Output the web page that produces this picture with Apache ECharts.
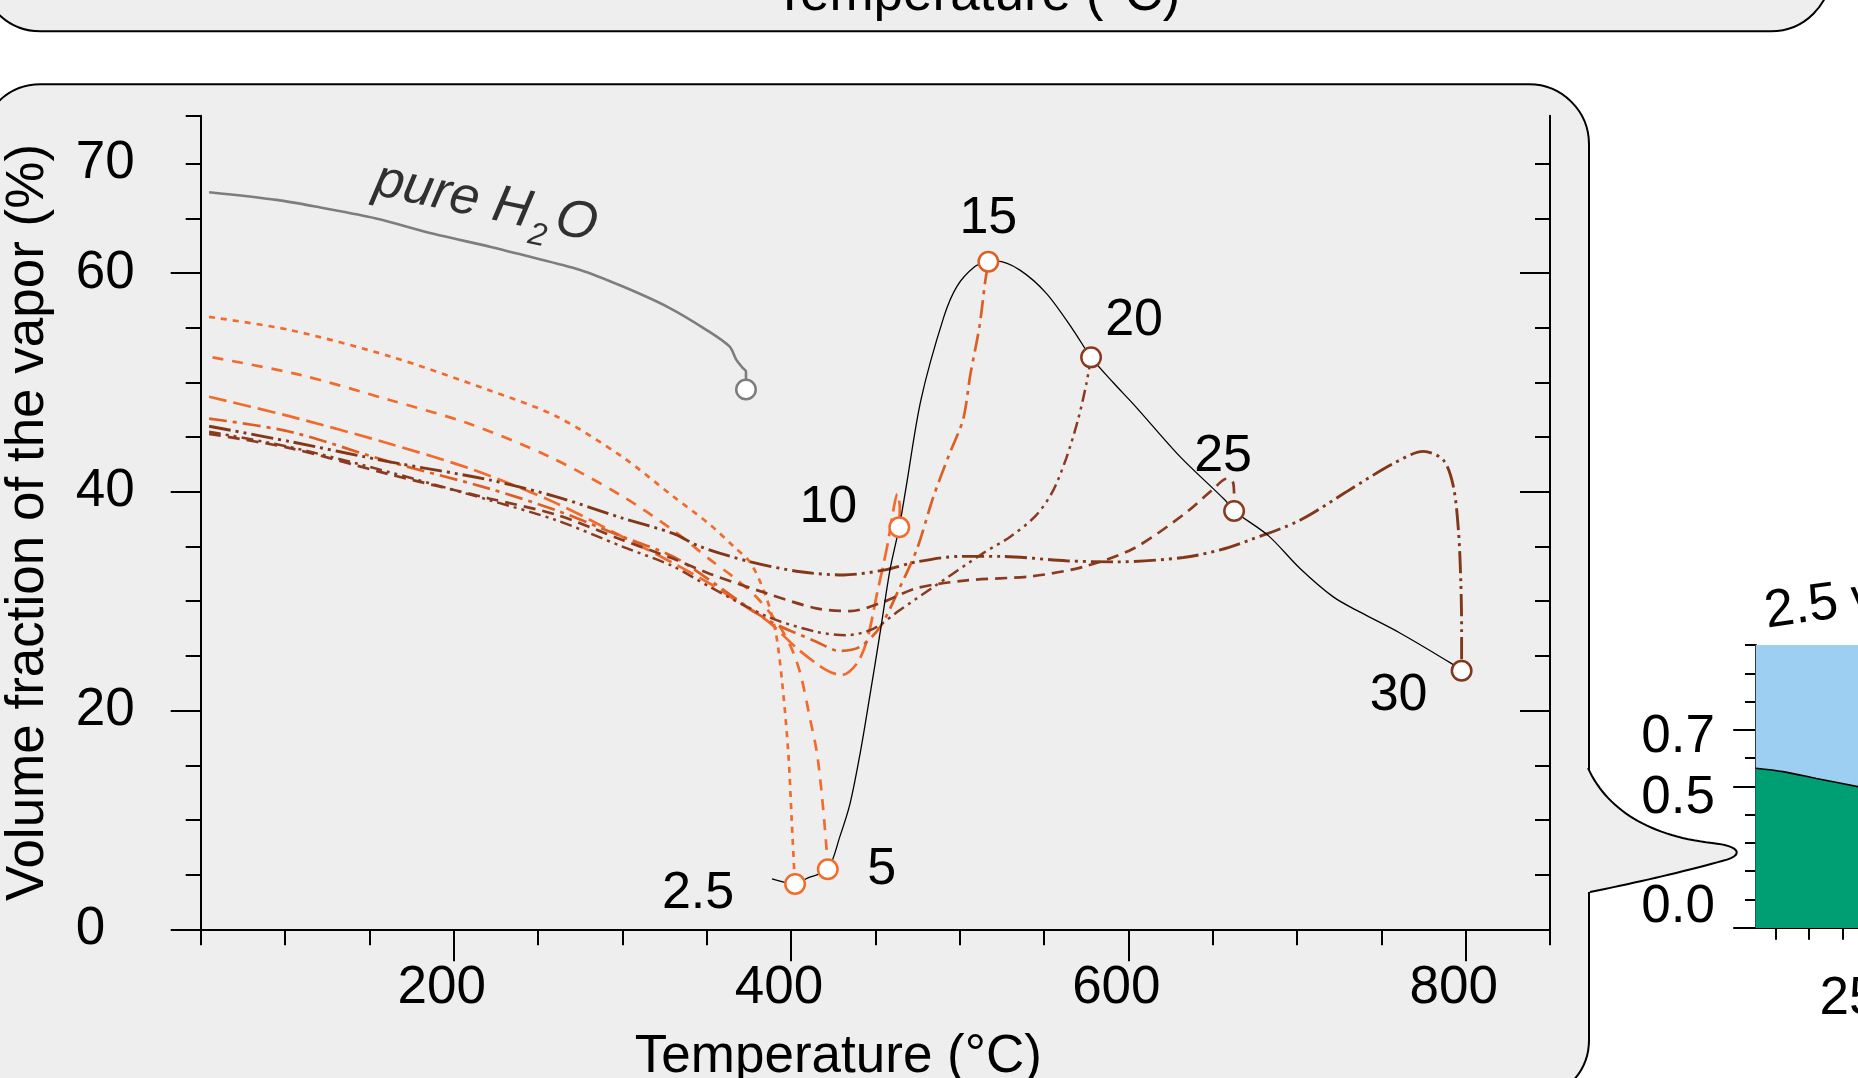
<!DOCTYPE html>
<html><head><meta charset="utf-8">
<script src="https://cdn.jsdelivr.net/npm/echarts@6/dist/echarts.min.js"></script>
<style>html,body{margin:0;padding:0;background:#fff}#c{width:1858px;height:1078px}</style>
</head><body><div id="c"></div>
<script>
// ---------------- DATA ----------------
const pureH2O = [[55,67.4],[95,66.7],[121,66.0],[154,65.0],[188,63.6],[222,62.4],[240,61.7],[275,60.3],[300,58.8],[327,56.9],[350,54.8],[363.5,53.3],[367.5,52.1],[371,51.4],[373.3,51.0],[373.3,49.6]];
const envelope = [[388.7,4.6],[402.4,4.15],[410,4.7],[421.8,5.5],[429,8.5],[435,11.5],[441,16.1],[447,21.6],[452.8,27.1],[458.7,32.9],[464.2,36.8],[468,40.2],[477,48.4],[490.6,56.0],[498.4,58.8],[509,60.6],[516,61.0],[522,61.1],[535.5,60.3],[551.4,58.15],[567.3,54.8],[577.9,52.3],[591,50.0],[604.3,47.8],[630.8,43.2],[657.3,39.25],[662.7,38.25],[683,36.0],[701.8,33.0],[721.5,30.4],[737.4,29.0],[761,27.1],[792.7,24.2],[797.6,23.65]];
const nacl2_5 = [[55,56.0],[103,54.8],[162,52.4],[221,49.3],[261,46.9],[300,43.2],[330,39.6],[352,37.0],[366,35.0],[376,33.5],[385,30.5],[391,27.1],[395,22.2],[398.4,16.1],[400.4,10.0],[402,5.1],[402.4,4.15]];
const nacl5 = [[57,52.3],[109,50.7],[162,48.4],[208,46.3],[257,43.2],[300,39.6],[330,36.5],[352,33.8],[366,32.2],[380,30.3],[392,28.0],[400,25.8],[405.5,23.4],[411.5,19.1],[415.4,16.1],[418.4,12.1],[421,7.5],[421.8,5.5]];
const nacl10 = [[55,48.7],[103,46.9],[162,44.4],[212,42.0],[261,38.95],[300,35.9],[330,33.5],[352,31.6],[370,29.8],[386,28.2],[405,25.5],[421,23.7],[430,23.25],[439,24.3],[445,26.4],[451,30.7],[457,35.0],[461,38.6],[463,39.8],[464.5,38.6],[464.2,36.8]];
const nacl15 = [[55,46.7],[103,45.5],[162,42.75],[221,40.3],[261,38.3],[300,35.9],[330,34.1],[352,31.9],[386,28.3],[415,26.3],[429,25.45],[441,25.85],[453,27.7],[464.6,31.3],[474.5,34.7],[484.4,39.55],[494,43.5],[502,46.6],[506.4,50.8],[511.7,55.1],[515,59.1],[517,61.04]];
const nacl20 = [[55,45.5],[103,44.1],[162,41.8],[221,39.25],[261,37.4],[300,35.0],[330,33.2],[352,31.3],[386,28.6],[415,27.2],[433,26.9],[449,27.5],[464.6,29.2],[484.4,31.3],[514,34.4],[530,35.9],[545,37.8],[555,40.0],[563,43.0],[570,46.5],[575,49.8],[577.9,52.3]];
const nacl25 = [[55,45.3],[103,44.0],[162,41.6],[221,39.4],[261,37.9],[300,35.6],[330,33.9],[352,32.5],[386,30.7],[415,29.35],[435,29.1],[455,29.95],[474.5,31.2],[504,31.9],[543.6,32.3],[573.3,33.15],[602.8,34.8],[632.5,37.9],[650,40.2],[658.3,41.2],[662.2,40.8],[662.7,39.4],[662.7,38.25]];
const nacl30 = [[55,46.0],[103,44.6],[162,42.75],[221,41.1],[261,39.55],[300,37.6],[330,36.2],[346,35.0],[376,33.6],[405.5,32.7],[431,32.4],[455,32.85],[474.5,33.6],[500,34.1],[524,34.1],[563,33.7],[593,33.6],[632.6,34.0],[654.5,34.7],[672,35.6],[701.7,37.4],[731.3,40.2],[757.2,42.6],[775,43.7],[786.8,42.9],[792.7,40.5],[795.7,36.5],[797.1,31.9],[797.6,27.4],[797.6,23.65]];

const salinities = ['2.5','5','10','15','20','25','30'];
const endT = [402.4, 421.8, 464.2, 517.0, 577.9, 662.7, 797.6];
const endV = [4.14, 5.49, 36.76, 61.04, 52.3, 38.25, 23.65];
const h2oEnd = [373.3, 49.37];
const h2oLabelAt = [219, 66.4];
const h2oSubAt = [249.5, 63.4];

const tempLabels = [200, 400, 600, 800];
const vapLabels = [0, 20, 40, 60, 70];

// inset (partially visible)
const insetT = [70, 111, 161, 223, 260];
const insetLiquid = [0.564, 0.552, 0.528, 0.499, 0.48];
const insetTop = [1, 1, 1, 1, 1];
const insetYLabels = [0, 0.5, 0.7];
const insetXLabels = [250, 500, 750];

// ---------------- STYLE ----------------
const FONT = "'Liberation Sans', Arial, Helvetica, sans-serif";
const ORANGE = '#f26b2c', ORANGE2 = '#dd5f24', BROWN = '#8b3a1f', BROWN2 = '#833719', GRAY = '#7d7d7d';
const curveStyle = {
  '2.5': {data: nacl2_5, color: ORANGE, type: [6, 6], width: 2.7},
  '5':   {data: nacl5,   color: ORANGE, type: [11, 9], width: 2.7},
  '10':  {data: nacl10,  color: ORANGE, type: [18, 7], width: 2.7},
  '15':  {data: nacl15,  color: ORANGE2, type: [18, 6, 4, 6], width: 2.7},
  '20':  {data: nacl20,  color: BROWN, type: [12, 5, 3, 5, 3, 5], width: 2.5},
  '25':  {data: nacl25,  color: BROWN, type: [12, 7], width: 2.7},
  '30':  {data: nacl30,  color: BROWN2, type: [22, 5, 3, 5, 3, 5], width: 2.9}
};
const labelOffset = {'2.5': [-97, 10], '5': [54, 0], '10': [-71, -20], '15': [0, -43], '20': [43, -37], '25': [-11, -54], '30': [-63, 25]};
const insetLabelStyle = {'0.0': 'up', '0.5': 'dn12', '0.7': 'dn8'};

const range = (a, b, s) => { const r = []; for (let v = a; v <= b + 1e-9; v += s) r.push(+v.toFixed(4)); return r; };
const tMinor = range(50, 850, 50).filter(v => tempLabels.indexOf(v) < 0);
const vMinor = range(5, 70, 5).filter(v => v % 20 !== 0).concat([74.4]);
const vMinorR = range(5, 70, 5).filter(v => v % 20 !== 0);
const insetYMinor = range(0.1, 1.0, 0.1).filter(v => Math.abs(v - 0.5) > 1e-6 && Math.abs(v - 0.7) > 1e-6);
const insetXTicks = range(100, 950, 50);

// decorative speech-bubble pointer outline (sampled cubic Béziers)
function bez(p0, p1, p2, p3, n) {
  const out = [];
  for (let i = 0; i <= n; i++) {
    const t = i / n, u = 1 - t;
    out.push([u*u*u*p0[0] + 3*u*u*t*p1[0] + 3*u*t*t*p2[0] + t*t*t*p3[0],
              u*u*u*p0[1] + 3*u*u*t*p1[1] + 3*u*t*t*p2[1] + t*t*t*p3[1]]);
  }
  return out;
}
const ptr = [].concat(
  bez([1588,768],[1607,810],[1650,836],[1712,843],30),
  bez([1712,843],[1742,846],[1744,856],[1722,861],12).slice(1),
  bez([1722,861],[1690,870],[1640,882],[1590,892],20).slice(1)
);
const ptrFill = ptr.concat([[1584,892],[1584,768]]);

const AX = {color: '#000', width: 2};
const lab = (extra) => Object.assign({fontSize: 53, color: '#000', fontFamily: FONT}, extra);
const noSplit = {show: false};

const chart = echarts.init(document.getElementById('c'), null, {renderer: 'canvas'});

const series = [];
series.push({type: 'line', name: 'pure H2O', xAxisIndex: 0, yAxisIndex: 0, data: pureH2O, smooth: 0.3, symbol: 'none',
  lineStyle: {color: GRAY, width: 2.6}, z: 3});
salinities.forEach(s => {
  const c = curveStyle[s];
  series.push({type: 'line', name: s, xAxisIndex: 0, yAxisIndex: 0, data: c.data, smooth: 0.3, symbol: 'none',
    lineStyle: {color: c.color, width: c.width, type: c.type, cap: 'butt'}, z: 3});
});
series.push({type: 'line', name: 'envelope', xAxisIndex: 0, yAxisIndex: 0, data: envelope, smooth: 0.3, symbol: 'none',
  lineStyle: {color: '#000', width: 1.3}, z: 4});
series.push({type: 'scatter', name: 'ends', xAxisIndex: 0, yAxisIndex: 0, symbolSize: 19.5, z: 6,
  data: salinities.map((s, i) => ({
    value: [endT[i], endV[i]],
    itemStyle: {color: '#fff', borderColor: curveStyle[s].color, borderWidth: 2.5, opacity: 1},
    label: {show: true, formatter: s, position: 'inside', offset: labelOffset[s], fontSize: 52, color: '#000', fontFamily: FONT, textBorderWidth: 0}
  }))});
series.push({type: 'scatter', name: 'h2o end', xAxisIndex: 0, yAxisIndex: 0, symbolSize: 19.5, z: 6,
  data: [h2oEnd], itemStyle: {color: '#fff', borderColor: GRAY, borderWidth: 2.5, opacity: 1}});
series.push({type: 'scatter', name: 'h2o label', xAxisIndex: 0, yAxisIndex: 0, symbolSize: 1, z: 6,
  itemStyle: {color: 'rgba(0,0,0,0)'},
  data: [h2oLabelAt],
  label: {show: true, position: 'inside', rotate: -12, color: '#000', textBorderWidth: 0,
    formatter: '{n|pure H}{g|}{n|O}',
    rich: {
      n: {fontSize: 53, fontStyle: 'italic', fontFamily: FONT, color: '#000', textBorderWidth: 0},
      g: {width: 26}
    }}});
series.push({type: 'scatter', name: 'h2o subscript', xAxisIndex: 0, yAxisIndex: 0, symbolSize: 1, z: 6,
  itemStyle: {color: 'rgba(0,0,0,0)'},
  data: [h2oSubAt],
  label: {show: true, position: 'inside', rotate: -12, formatter: '2', fontSize: 32, fontStyle: 'italic',
    fontFamily: FONT, color: '#000', textBorderWidth: 0}});
// inset
series.push({type: 'line', name: 'inset top', xAxisIndex: 3, yAxisIndex: 4, data: insetT.map((t, i) => [t, insetTop[i]]),
  symbol: 'none', lineStyle: {width: 0}, areaStyle: {color: '#9ccff1', opacity: 1}, z: 2});
series.push({type: 'line', name: 'inset liquid', xAxisIndex: 3, yAxisIndex: 4, data: insetT.map((t, i) => [t, insetLiquid[i]]),
  symbol: 'none', smooth: 0.3, lineStyle: {width: 1.6, color: '#000'}, areaStyle: {color: '#009e73', opacity: 1}, z: 3});

const insetRich = {
  up:   {fontSize: 53, fontFamily: FONT, color: '#000', padding: [0, 0, 40, 0]},
  dn12: {fontSize: 53, fontFamily: FONT, color: '#000', padding: [24, 0, 0, 0]},
  dn8:  {fontSize: 53, fontFamily: FONT, color: '#000', padding: [16, 0, 0, 0]}
};

const option = {
  animation: false,
  backgroundColor: '#ffffff',
  grid: [
    {left: 200.7, top: 115.7, right: 308, bottom: 148.7, containLabel: false, outerBoundsMode: 'none'},
    {left: 1755.7, top: 645, width: 600, height: 282.7, containLabel: false, outerBoundsMode: 'none'}
  ],
  xAxis: [
    {type: 'value', gridIndex: 0, position: 'bottom', min: 50, max: 850,
      axisLine: {show: true, lineStyle: AX}, splitLine: noSplit,
      axisTick: {show: true, customValues: tempLabels, length: 32, lineStyle: AX},
      axisLabel: lab({customValues: tempLabels, margin: 33, padding: [0, 24, 0, 0]}),
      name: 'Temperature (°C)', nameLocation: 'middle', nameGap: 102,
      nameTextStyle: lab({padding: [0, 74, 0, 0]})},
    {type: 'value', gridIndex: 0, position: 'bottom', min: 50, max: 850,
      axisLine: {show: false}, splitLine: noSplit,
      axisTick: {show: true, customValues: tMinor, length: 16, lineStyle: AX}, axisLabel: {show: false}},
    {type: 'value', gridIndex: 0, position: 'top', min: 50, max: 850,
      axisLine: {show: true, lineStyle: AX}, splitLine: noSplit, axisTick: {show: false}, axisLabel: {show: false}},
    {type: 'value', gridIndex: 1, position: 'bottom', min: 70, max: 970,
      axisLine: {show: true, lineStyle: AX}, splitLine: noSplit,
      axisTick: {show: true, customValues: insetXTicks, length: 12, lineStyle: AX},
      axisLabel: lab({customValues: insetXLabels, margin: 45, padding: [0, 24, 0, 0]})},
    {type: 'value', gridIndex: 1, position: 'top', min: 70, max: 970,
      axisLine: {show: true, lineStyle: AX}, splitLine: noSplit, axisTick: {show: false}, axisLabel: {show: false}}
  ],
  yAxis: [
    {type: 'value', gridIndex: 0, position: 'left', min: 0, max: 74.4,
      axisLine: {show: true, lineStyle: AX}, splitLine: noSplit,
      axisTick: {show: true, customValues: [0, 20, 40, 60], length: 30, lineStyle: AX},
      axisLabel: lab({customValues: vapLabels, margin: 125, align: 'left'}),
      name: 'Volume fraction of the vapor (%)', nameLocation: 'middle', nameGap: 146,
      nameTextStyle: lab({})},
    {type: 'value', gridIndex: 0, position: 'left', min: 0, max: 74.4,
      axisLine: {show: false}, splitLine: noSplit,
      axisTick: {show: true, customValues: vMinor, length: 15, lineStyle: AX}, axisLabel: {show: false}},
    {type: 'value', gridIndex: 0, position: 'right', min: 0, max: 74.4,
      axisLine: {show: true, lineStyle: AX}, splitLine: noSplit,
      axisTick: {show: true, inside: true, customValues: [20, 40, 60], length: 30, lineStyle: AX}, axisLabel: {show: false}},
    {type: 'value', gridIndex: 0, position: 'right', min: 0, max: 74.4,
      axisLine: {show: false}, splitLine: noSplit,
      axisTick: {show: true, inside: true, customValues: vMinorR, length: 15, lineStyle: AX}, axisLabel: {show: false}},
    {type: 'value', gridIndex: 1, position: 'left', min: 0, max: 1,
      axisLine: {show: true, lineStyle: AX}, splitLine: noSplit,
      axisTick: {show: true, customValues: insetYLabels, length: 22.5, lineStyle: AX},
      axisLabel: lab({customValues: insetYLabels, margin: 40.7,
        formatter: v => { const t = v.toFixed(1); return '{' + insetLabelStyle[t] + '|' + t + '}'; },
        rich: insetRich})},
    {type: 'value', gridIndex: 1, position: 'left', min: 0, max: 1,
      axisLine: {show: false}, splitLine: noSplit,
      axisTick: {show: true, customValues: insetYMinor, length: 10.7, lineStyle: AX}, axisLabel: {show: false}}
  ],
  graphic: [
    {type: 'rect', z: -3, shape: {x: -19.5, y: -400, width: 1850.5, height: 431.3, r: 60},
      style: {fill: '#eeeeee', stroke: '#000', lineWidth: 2}},
    {type: 'rect', z: -3, shape: {x: -19.5, y: 84.3, width: 1608.5, height: 1015.7, r: 60},
      style: {fill: '#eeeeee', stroke: '#000', lineWidth: 2}},
    {type: 'polygon', z: -2, shape: {points: ptrFill}, style: {fill: '#eeeeee', stroke: null}},
    {type: 'polyline', z: -2, shape: {points: ptr}, style: {fill: null, stroke: '#000', lineWidth: 2}},
    {type: 'text', z: 1, x: 977, y: -5, style: {text: 'Temperature (°C)', font: '53px ' + FONT, fill: '#000', textAlign: 'center', textVerticalAlign: 'middle'}},
    {type: 'text', z: 1, x: 1765, y: 613, rotation: 0.14, style: {text: '2.5 wt% NaCl', font: '53px ' + FONT, fill: '#000', textAlign: 'left', textVerticalAlign: 'middle'}}
  ],
  series: series
};
chart.setOption(option);
</script>
</body></html>
